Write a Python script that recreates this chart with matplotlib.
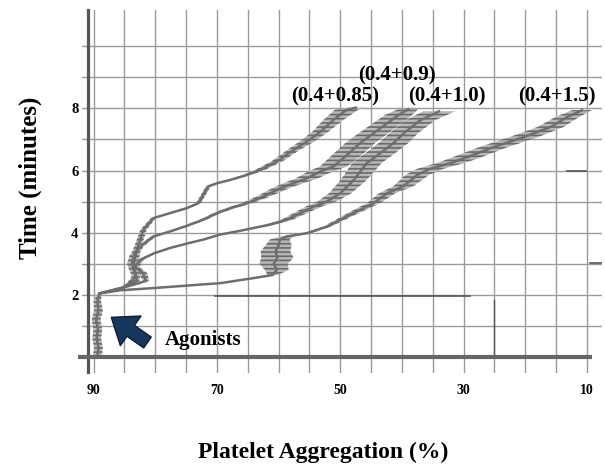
import numpy as np
import matplotlib
matplotlib.use("Agg")
import matplotlib.pyplot as plt

plt.rcParams['font.family'] = ['Liberation Serif', 'DejaVu Serif']
plt.rcParams['font.weight'] = 'bold'
plt.rcParams['hatch.linewidth'] = 1.2

# ---- datos ----
# tramo comun (antes de agregar agonistas)
base_t = [0.0, 0.3, 0.6, 0.9, 1.2, 1.5, 1.8, 2.05]
base_x = [89.4, 89.2, 89.5, 89.3, 89.6, 89.2, 89.4, 89.0]
base_w = [0.7, 0.7, 0.7, 0.7, 0.7, 0.7, 0.6, 0.3]

# (0.4+0.85)
a_t = [2.05, 2.2, 2.4, 2.6, 2.9, 3.45, 4.1, 4.47, 4.63, 4.79, 4.95, 5.22, 5.49, 5.59,
       5.70, 5.86, 6.02, 6.29, 6.66, 6.93, 7.25, 7.63, 7.95, 8.02]
a_x = [89.0, 85.5, 84.0, 83.2, 83.6, 83.0, 81.9, 80.3, 77.6, 74.9, 73.0, 72.2, 71.4, 70.0,
       67.8, 65.1, 63.0, 60.3, 57.6, 55.4, 53.2, 51.1, 49.0, 47.5]
a_w = [0.3, 0.3, 0.5, 0.6, 0.8, 0.6, 0.5, 0.4, 0.4, 0.4, 0.4, 0.4, 0.4, 0.4,
       0.5, 0.6, 0.8, 0.9, 1.0, 1.2, 1.3, 1.6, 1.9, 1.2]

# (0.4+0.9)
b_t = [2.05, 2.25, 2.45, 2.7, 3.0, 3.3, 3.56, 3.88, 4.04, 4.22, 4.42, 4.63, 4.79, 4.95,
       5.17, 5.43, 5.59, 5.75, 5.97, 6.13, 6.50, 6.88, 7.20, 7.52, 7.79, 7.97]
b_x = [89.0, 85.0, 83.0, 83.2, 83.8, 83.4, 82.4, 80.3, 77.6, 74.9, 72.2, 70.0, 67.8, 65.1,
       62.4, 59.7, 57.6, 55.4, 53.2, 51.1, 48.9, 46.8, 44.6, 42.4, 40.5, 39.0]
b_w = [0.3, 0.3, 0.5, 0.7, 0.8, 0.7, 0.5, 0.4, 0.4, 0.5, 0.5, 0.6, 0.7, 0.9,
       1.1, 1.4, 1.6, 1.8, 2.0, 2.2, 2.4, 2.4, 2.4, 2.3, 2.2, 1.6]

# (0.4+1.0)
c_t = [2.05, 2.3, 2.45, 2.7, 2.9, 3.13, 3.33, 3.51, 3.65, 3.78, 3.94, 4.04, 4.15, 4.26,
       4.42, 4.63, 4.84, 5.0, 5.27, 5.70, 6.24, 6.56, 6.88, 7.2, 7.62, 7.9]
c_x = [89.0, 84.0, 81.5, 82.0, 83.3, 82.4, 80.3, 77.6, 74.9, 72.2, 69.5, 66.8, 64.1, 61.4,
       58.6, 56.5, 54.3, 52.2, 50.0, 47.8, 45.7, 43.5, 41.4, 39.7, 37.0, 34.0]
c_w = [0.3, 0.3, 0.5, 0.7, 0.7, 0.5, 0.3, 0.3, 0.3, 0.3, 0.4, 0.4, 0.5, 0.7,
       0.9, 1.1, 1.3, 1.5, 1.8, 2.1, 2.4, 2.4, 2.4, 2.3, 2.4, 2.6]

# (0.4+1.5)
d_t = [2.05, 2.15, 2.22, 2.38, 2.54, 2.64, 2.8, 3.0, 3.2, 3.4, 3.6, 3.78, 3.88, 3.99,
       4.2, 4.63, 4.95, 5.27, 5.49, 5.86, 6.05, 6.24, 6.43, 6.75, 7.07, 7.40, 7.72, 7.94]
d_x = [89.0, 85.6, 80.3, 69.4, 64.1, 61.0, 60.3, 60.8, 60.2, 60.5, 60.0, 59.8, 58.6, 55.3,
       52.1, 47.9, 44.6, 42.4, 39.8, 37.5, 35.5, 32.1, 29.4, 25.2, 20.3, 15.9, 13.2, 10.8]
d_w = [0.3, 0.3, 0.3, 0.3, 0.3, 0.8, 1.9, 2.3, 2.6, 2.4, 2.1, 1.6, 1.0, 0.6,
       0.6, 0.9, 1.1, 1.3, 1.6, 1.9, 2.1, 2.2, 2.3, 2.3, 2.3, 2.1, 1.9, 1.6]

etiquetas = ["(0.4+0.85)", "(0.4+0.9)", "(0.4+1.0)", "(0.4+1.5)"]
etiq_x = [50.9, 40.8, 32.7, 14.9]
etiq_t = [8.39, 9.07, 8.39, 8.39]

xticks = [90, 70, 50, 30, 10]
yticks = [2, 4, 6, 8]

# ---- figura ----
fig = plt.figure(figsize=(6.05, 4.69), dpi=100)
ax = fig.add_axes([82 / 605, 96 / 469, 520 / 605, 363 / 469])
ax.set_xlim(91.88, 7.57)
ax.set_ylim(-0.51, 11.16)

for s in ax.spines.values():
    s.set_visible(False)

ax.set_xticks(xticks)
ax.set_xticks([v for v in range(85, 10, -5) if v not in xticks], minor=True)
ax.set_yticks(yticks)
ax.set_yticks([1, 3, 5, 7, 9, 10], minor=True)
ax.grid(True, which='both', color='#9a9a9a', lw=1.0, zorder=0)
ax.tick_params(which='both', length=0)
ax.tick_params(axis='x', pad=8, labelsize=10)
ax.tick_params(axis='y', pad=2.5, labelsize=10.5)

# trazos
curvas = [(base_t, base_x, base_w), (a_t, a_x, a_w), (b_t, b_x, b_w),
          (c_t, c_x, c_w), (d_t, d_x, d_w)]
for t, x, w in curvas:
    t = np.array(t); x = np.array(x); w = np.array(w)
    ax.fill_betweenx(t, x - w, x + w, facecolor='#b8b8b8', edgecolor='#6a6a6a',
                     hatch='----', lw=0, zorder=2)
    ax.plot(x, t, color='#6e6e6e', lw=1.8, zorder=3)

# marcas sueltas del registro
ax.plot([70.3, 29.0], [1.97, 1.97], color='#555555', lw=1.2, zorder=2)
ax.plot([25.0, 25.0], [0.0, 1.85], color='#555555', lw=1.0, zorder=2)
ax.plot([9.5, 7.6], [3.02, 3.02], color='#555555', lw=1.2, zorder=2)
ax.plot([13.2, 10.2], [6.0, 6.0], color='#555555', lw=1.2, zorder=2)

# ejes gruesos
ax.plot([90.86, 90.86], [-0.48, 11.16], color='#555555', lw=2.3, zorder=4, clip_on=False)
ax.plot([92.5, 9.2], [0.0, 0.0], color='#666666', lw=3.0, zorder=4, clip_on=False,
        solid_capstyle='butt')

for txt, x, y in zip(etiquetas, etiq_x, etiq_t):
    ax.text(x, y, txt, ha='center', va='center', fontsize=15, zorder=5)

# flecha de agonistas
ax.annotate('', xy=(87.5, 1.33), xytext=(80.9, 0.42),
            arrowprops=dict(arrowstyle='simple,head_length=1.7,head_width=2.6,tail_width=0.95',
                            mutation_scale=10, fc='#17375e', ec='#0b1d33', lw=1.0),
            zorder=5)
ax.text(78.4, 0.39, "Agonists", ha='left', va='baseline', fontsize=15, zorder=5)

fig.text(30 / 605, 1 - 178 / 469, "Time (minutes)", rotation=90, ha='center', va='center',
         fontsize=18)
fig.text(323 / 605, 1 - 452 / 469, "Platelet Aggregation (%)", ha='center', va='center',
         fontsize=17)

fig.savefig('out.png', dpi=100)
